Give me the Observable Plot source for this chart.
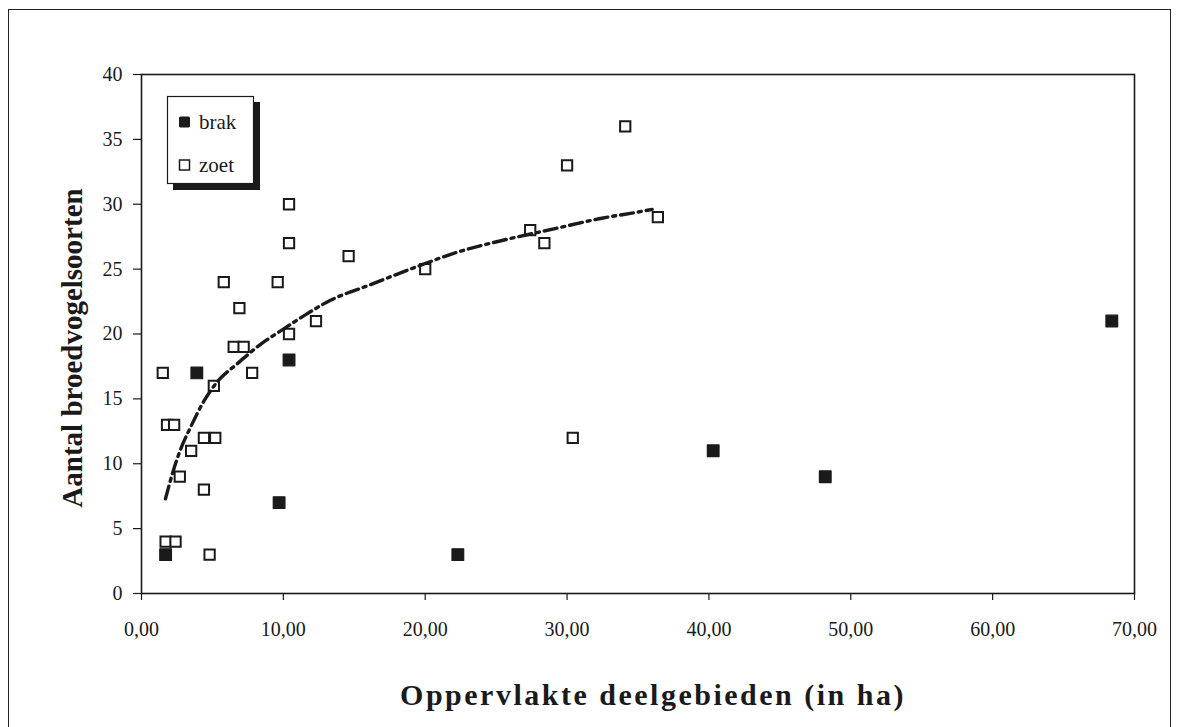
<!DOCTYPE html>
<html>
<head>
<meta charset="utf-8">
<script src="https://cdn.jsdelivr.net/npm/d3@7"></script>
<script src="https://cdn.jsdelivr.net/npm/@observablehq/plot@0.6"></script>
<style>
  html, body { margin: 0; padding: 0; background: #fff; overflow: hidden; }
  #wrap { position: relative; width: 1179px; height: 727px; overflow: hidden; }
  #outer { position: absolute; left: 8px; top: 9px; width: 1163px; height: 740px; border: 1.5px solid #222; box-sizing: border-box; }
  #chart { position: absolute; left: 0; top: 0; }
  #legend { position: absolute; left: 167px; top: 96px; width: 87px; height: 88px; }
</style>
</head>
<body>
<div id="wrap">
  <div id="outer"></div>
  <div id="chart"></div>
  <div id="legend"></div>
</div>
<script>
// ---- data ----
const seriesNames = ["brak", "zoet"];

const brakX = [1.7, 3.9, 9.7, 10.4, 22.3, 40.3, 48.2, 68.4];
const brakY = [3, 17, 7, 18, 3, 11, 9, 21];

const zoetX = [1.5, 1.8, 2.3, 1.7, 2.4, 2.7, 3.5, 4.4, 5.2, 4.4, 4.8, 5.1, 5.8, 6.5, 7.2, 6.9, 7.8, 9.6, 10.4, 10.4, 10.4, 12.3, 14.6, 20.0, 27.4, 28.4, 30.0, 34.1, 36.4, 30.4];
const zoetY = [17, 13, 13, 4, 4, 9, 11, 12, 12, 8, 3, 16, 24, 19, 19, 22, 17, 24, 20, 27, 30, 21, 26, 25, 28, 27, 33, 36, 29, 12];

// trend line
const trendX = [1.69, 2.28, 2.75, 3.45, 4.28, 5.33, 6.74, 8.39, 10.03, 11.44, 13.32, 15.9, 19.19, 22.25, 25.77, 29.06, 32.35, 35.0, 36.0];
const trendY = [7.3, 9.6, 11.1, 12.8, 14.6, 16.3, 17.7, 19.2, 20.4, 21.4, 22.6, 23.7, 25.1, 26.3, 27.3, 28.1, 28.9, 29.4, 29.6];

const xTicks = [0, 10, 20, 30, 40, 50, 60, 70];
const yTicks = [0, 5, 10, 15, 20, 25, 30, 35, 40];

const xTitle = "Oppervlakte deelgebieden (in ha)";
const yTitle = "Aantal broedvogelsoorten";

// ---- build tables ----
const brak = brakX.map((x, i) => ({x, y: brakY[i]}));
const zoet = zoetX.map((x, i) => ({x, y: zoetY[i]}));
const trend = trendX.map((x, i) => ({x, y: trendY[i]}));

const ink = "#1a1a1a";
const font = "'Liberation Serif', 'Times New Roman', serif";
const fmt = d => d.toFixed(2).replace(".", ",");

const chart = Plot.plot({
  width: 1179,
  height: 727,
  marginLeft: 141,
  marginRight: 45,
  marginTop: 74,
  marginBottom: 134,
  x: {domain: [0, 70]},
  y: {domain: [0, 40]},
  style: {fontFamily: font, fontSize: "20px", color: ink, background: "transparent"},
  marks: [
    Plot.frame({stroke: ink, strokeWidth: 1.6}),
    Plot.axisX({ticks: xTicks, tickFormat: fmt, tickSize: 7, tickPadding: 21, label: null, stroke: ink, strokeWidth: 1.2}),
    Plot.axisY({ticks: yTicks, tickSize: 8, tickPadding: 11, label: null, stroke: ink, strokeWidth: 1.2}),
    Plot.dot(zoet, {x: "x", y: "y", symbol: "square", r: 5.8, stroke: ink, strokeWidth: 2, fill: "white"}),
    Plot.dot(brak, {x: "x", y: "y", symbol: "square", r: 6.6, fill: ink, stroke: ink, strokeWidth: 1.2, strokeLinejoin: "round"}),
    Plot.line(trend, {x: "x", y: "y", curve: "monotone-x", stroke: ink, strokeWidth: 3.4, strokeDasharray: "13,5,3,5"}),
    Plot.text([xTitle], {frameAnchor: "bottom", dx: 15, dy: 111, fontSize: 30, fontWeight: "bold", fill: ink}),
    Plot.text([yTitle], {frameAnchor: "left", textAnchor: "middle", dx: -69, dy: 14, rotate: -90, fontSize: 29, fontWeight: "bold", fill: ink})
  ]
});
d3.select(chart).selectAll("text")
  .filter(function() { return this.textContent === xTitle; })
  .attr("letter-spacing", "2.5px");
document.getElementById("chart").appendChild(chart);

// ---- legend (boxed with drop shadow) ----
const lg = d3.select("#legend").append("svg")
  .attr("width", 100).attr("height", 100)
  .style("overflow", "visible");
lg.append("rect").attr("x", 6).attr("y", 6).attr("width", 87).attr("height", 88).attr("fill", ink);
lg.append("rect").attr("x", 0.5).attr("y", 0.5).attr("width", 86).attr("height", 87)
  .attr("fill", "white").attr("stroke", ink).attr("stroke-width", 1.2);
seriesNames.forEach((name, i) => {
  const cy = 26 + i * 43;
  if (name === "brak") {
    lg.append("rect").attr("x", 12).attr("y", cy - 5.5).attr("width", 11).attr("height", 11)
      .attr("rx", 1.5).attr("fill", ink);
  } else {
    lg.append("rect").attr("x", 12.5).attr("y", cy - 5).attr("width", 10).attr("height", 10)
      .attr("fill", "white").attr("stroke", ink).attr("stroke-width", 1.5);
  }
  lg.append("text").attr("x", 32).attr("y", cy).attr("dy", "0.35em")
    .attr("font-family", font).attr("font-size", 21).attr("fill", ink).text(name);
});
</script>
</body>
</html>
